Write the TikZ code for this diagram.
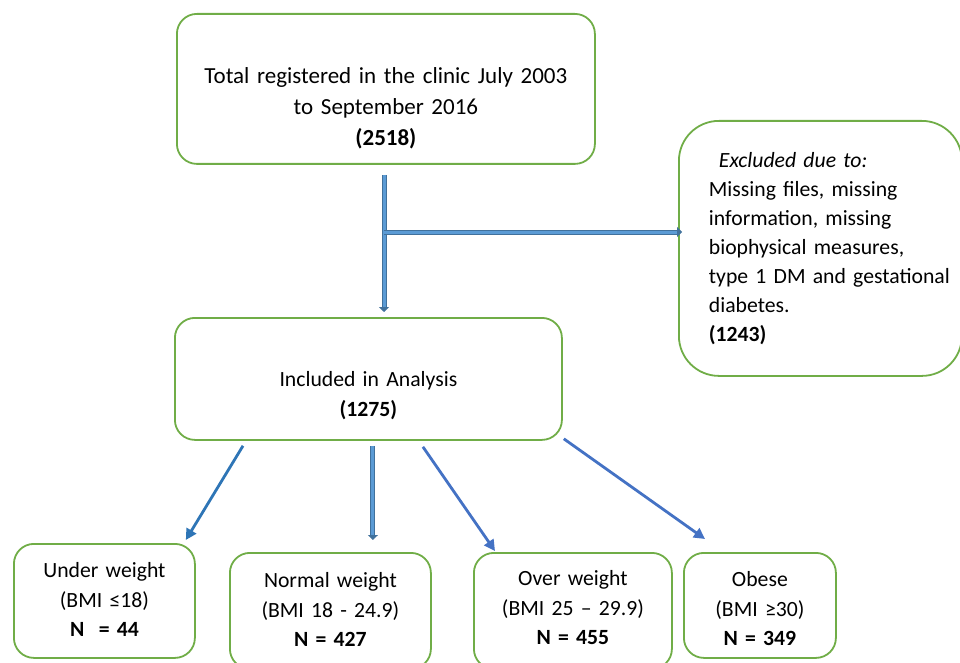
\documentclass[tikz,border=0pt]{standalone}
\usepackage{fontspec}
\setmainfont{Carlito}
\usetikzlibrary{arrows.meta}

\definecolor{boxgreen}{HTML}{70AD47}
\definecolor{arrowblue}{HTML}{4472C4}
\definecolor{underblue}{HTML}{2E75B6}
\definecolor{pipefill}{HTML}{5B9BD5}
\definecolor{pipeedge}{HTML}{41719C}

\tikzset{
  box/.style={draw=boxgreen, line width=1.8pt, rounded corners=20pt,
    inner sep=0pt, anchor=north west, align=center,
    font=\fontsize{21.7}{29.5}\selectfont},
  link/.style={draw=arrowblue, line width=2.8pt,
    -{Triangle[length=11pt,width=11pt]}},
  pipe/.style={draw=pipeedge, double=pipefill, double distance=3pt,
    line width=1pt, -{Triangle[length=5pt,width=10pt]}}
}

\begin{document}
\begin{tikzpicture}[x=1pt,y=-1pt]
\useasboundingbox (0,0) rectangle (960,663);

\node[box, font=\fontsize{23}{31}\selectfont, text width=418pt, text height=70pt, text depth=80pt] (total) at (176,13)
  {Total registered in the clinic July 2003\\ to September 2016\\ \textbf{(2518)}};

\node[box, rounded corners=40pt, align=left, font=\fontsize{21.7}{29}\selectfont,
  text width=283pt, text height=47pt, text depth=208pt] (excl) at (678,120)
  {\leftskip=30pt\hspace*{10pt}\textit{Excluded due to:}\\ Missing files, missing\\ information, missing\\
   biophysical measures,\\ type 1 DM and gestational\\ diabetes.\\ \textbf{(1243)}\par};

\node[box, text width=387pt, text height=69pt, text depth=53pt] (incl) at (174,317)
  {Included in Analysis\\ \textbf{(1275)}};

% BMI groups
\node[box, text width=181pt, text height=34pt, text depth=80pt] (under) at (13,543)
  {Under weight\\ (BMI ≤18)\\ \textbf{N~ = 44}};
\node[box, text width=201pt, text height=35pt, text depth=81pt] (normal) at (229,552)
  {Normal weight\\ (BMI 18 - 24.9)\\ \textbf{N = 427}};
\node[box, text width=198pt, text height=33pt, text depth=83pt] (over) at (473,552)
  {Over weight\\ (BMI 25 – 29.9)\\ \textbf{N = 455}};
\node[box, text width=152pt, text height=34pt, text depth=71pt] (obese) at (683,552)
  {Obese\\ (BMI ≥30)\\ \textbf{N = 349}};

\coordinate (split) at (384,232);
\draw[pipe, shorten <=10pt, shorten >=5pt] (split |- total.south) -- (split |- incl.north);
\draw[pipe, shorten >=-4pt] (split) -- (split -| excl.west);

\draw[link, draw=underblue] ([xshift=69pt,yshift=-5pt]incl.south west) -- ([xshift=-10pt,yshift=3pt]under.north east);
\draw[pipe, shorten <=5pt, shorten >=12pt] ([xshift=4.5pt]incl.south) -- ([xshift=4.5pt]incl.south |- normal.north);
\draw[link] ([xshift=54.5pt,yshift=-6pt]incl.south) -- ([xshift=22pt,yshift=1pt]over.north west);
\draw[link] ([xshift=1pt,yshift=2pt]incl.south east) -- ([xshift=22pt,yshift=13pt]obese.north west);
\end{tikzpicture}
\end{document}
